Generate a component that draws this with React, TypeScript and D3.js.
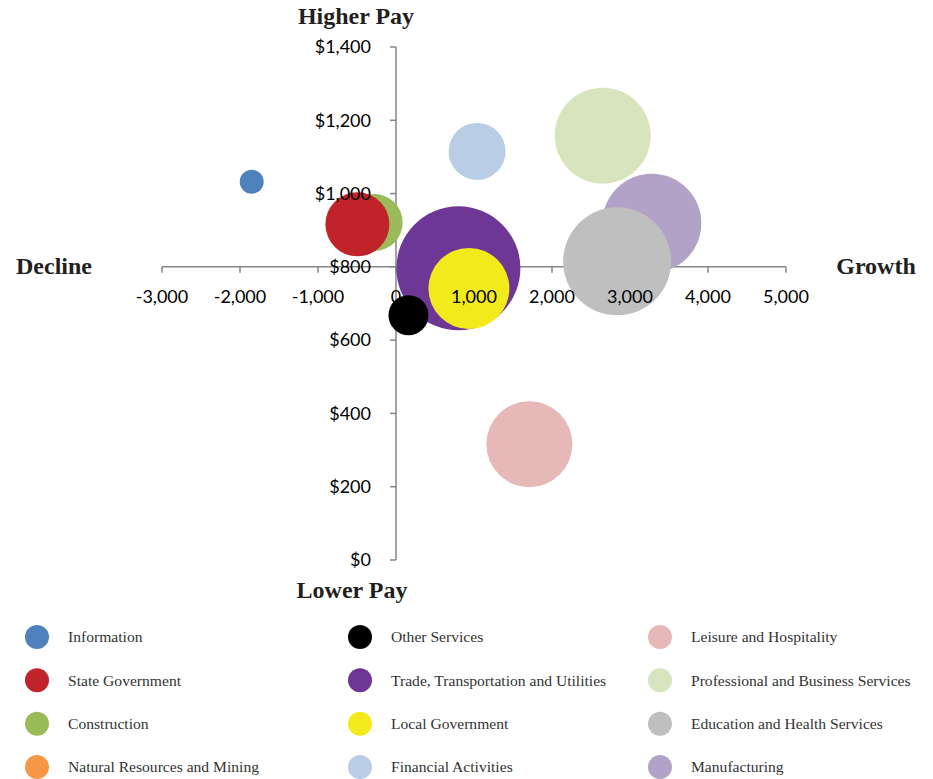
import React from 'react';
import * as d3 from 'd3';

// industries in legend order
const industries = [
    'Information', 'State Government', 'Construction', 'Natural Resources and Mining',
    'Other Services', 'Trade, Transportation and Utilities', 'Local Government', 'Financial Activities',
    'Leisure and Hospitality', 'Professional and Business Services', 'Education and Health Services', 'Manufacturing',
];
// job change (x), average weekly pay (y), bubble size
const jobChange = [-1850, -495, -280, 600, 160, 800, 935, 1040, 1710, 2650, 2835, 3280];
const weeklyPay = [1032, 916, 921, 850, 668, 796, 741, 1115, 316, 1158, 815, 919];
const employment = [144, 1024, 812, 100, 400, 3844, 1640, 812, 1849, 2304, 2916, 2450];
const colors = [
    '#4F81BD', '#C1232B', '#9BBB59', '#F79646',
    '#000000', '#6E3796', '#F2EA1A', '#B9CDE5',
    '#E6B9B8', '#D7E4BD', '#BFBFBF', '#B3A2C7',
];
// painting order (later on top)
const drawOrder = [
    'Manufacturing', 'Education and Health Services', 'Professional and Business Services',
    'Leisure and Hospitality', 'Financial Activities', 'Natural Resources and Mining',
    'Trade, Transportation and Utilities', 'Local Government', 'Other Services',
    'Construction', 'State Government', 'Information',
];

const xTicks = [-3000, -2000, -1000, 0, 1000, 2000, 3000, 4000, 5000];
const yTicks = [0, 200, 400, 600, 800, 1000, 1200, 1400];

const serif = '"Liberation Serif", "DejaVu Serif", serif';
const sans = 'Lato, "Open Sans", sans-serif';

export default function App() {
    const width = 933;
    const height = 779;

    const x = d3.scaleLinear().domain([-3000, 5000]).range([162, 786]);
    const y = d3.scaleLinear().domain([0, 1400]).range([560, 47]);
    const r = d3.scaleSqrt().domain([0, 3844]).range([0, 62]);

    const xAxisY = y(800);
    const yAxisX = x(0);
    const fmt = d3.format(',');

    const data = industries.map((name, i) => ({
        name, x: jobChange[i], y: weeklyPay[i], size: employment[i], color: colors[i],
    }));
    const ordered = drawOrder.map(n => data.find(d => d.name === n)!);

    const legendX = [37, 360, 660];
    const legendY = d3.scaleLinear().domain([0, 3]).range([637, 767]);

    return (
        <div>
            <style>{`body{margin:0}`}</style>
            <svg width={width} height={height} style={{ display: 'block', background: '#fff' }}>
                {/* axis lines (behind bubbles) */}
                <g stroke="#868686" strokeWidth={1.5} fill="none">
                    <line x1={x(-3000)} x2={x(5000)} y1={xAxisY} y2={xAxisY} />
                    <line x1={yAxisX} x2={yAxisX} y1={y(1400)} y2={y(0)} />
                    {xTicks.map(t => (
                        <line key={'xt' + t} x1={x(t)} x2={x(t)} y1={xAxisY} y2={xAxisY + 6} />
                    ))}
                    {yTicks.map(t => (
                        <line key={'yt' + t} x1={yAxisX - 6} x2={yAxisX} y1={y(t)} y2={y(t)} />
                    ))}
                </g>

                {/* bubbles */}
                <g>
                    {ordered.map(d => (
                        <circle key={d.name} cx={x(d.x)} cy={y(d.y)} r={r(d.size)} fill={d.color} />
                    ))}
                </g>

                {/* tick labels on top */}
                <g fontFamily={sans} fontSize={18} fill="#000">
                    {xTicks.map(t => (
                        <text key={'xl' + t} x={x(t)} y={xAxisY + 36} textAnchor="middle">
                            {fmt(t).replace('\u2212', '-')}
                        </text>
                    ))}
                    {yTicks.map(t => (
                        <text key={'yl' + t} x={yAxisX - 25} y={y(t)} dy="0.35em" textAnchor="end">
                            {'$' + fmt(t)}
                        </text>
                    ))}
                </g>

                {/* quadrant titles */}
                <g fontFamily={serif} fontSize={24} fontWeight="bold" fill="#231F20">
                    <text x={356} y={24} textAnchor="middle">Higher Pay</text>
                    <text x={352} y={598} textAnchor="middle">Lower Pay</text>
                    <text x={54} y={274} textAnchor="middle">Decline</text>
                    <text x={876} y={274} textAnchor="middle">Growth</text>
                </g>

                {/* legend */}
                <g fontFamily={serif} fontSize={15.6} fill="#333">
                    {data.map((d, i) => {
                        const col = Math.floor(i / 4);
                        const row = i % 4;
                        const cy = legendY(row);
                        return (
                            <g key={'lg' + d.name}>
                                <circle cx={legendX[col]} cy={cy} r={12} fill={d.color} />
                                <text x={legendX[col] + 31} y={cy} dy="0.35em">{d.name}</text>
                            </g>
                        );
                    })}
                </g>
            </svg>
        </div>
    );
}
